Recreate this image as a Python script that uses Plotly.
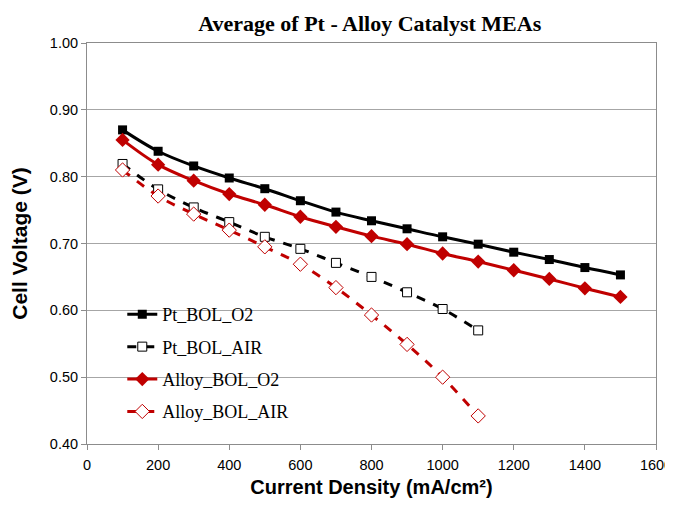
import plotly.graph_objects as go

current = [100, 200, 300, 400, 500, 600, 700, 800, 900, 1000, 1100, 1200, 1300, 1400, 1500]
current_air = [100, 200, 300, 400, 500, 600, 700, 800, 900, 1000, 1100]

pt_bol_o2 = [0.870, 0.838, 0.816, 0.798, 0.782, 0.764, 0.747, 0.734, 0.722, 0.710, 0.699, 0.687, 0.676, 0.664, 0.653]
alloy_bol_o2 = [0.855, 0.818, 0.794, 0.774, 0.758, 0.740, 0.725, 0.711, 0.699, 0.685, 0.673, 0.660, 0.647, 0.633, 0.620]
pt_bol_air = [0.819, 0.781, 0.754, 0.732, 0.710, 0.692, 0.671, 0.650, 0.627, 0.602, 0.570]
alloy_bol_air = [0.810, 0.771, 0.744, 0.720, 0.695, 0.669, 0.634, 0.593, 0.549, 0.500, 0.442]

RED = "#C00000"
fig = go.Figure()
fig.add_trace(go.Scatter(x=current, y=pt_bol_o2, name="Pt_BOL_O2", mode="lines+markers",
                         line=dict(color="black", width=3, shape="spline"),
                         marker=dict(symbol="square", size=9, color="black"), legendgroup="a"))
fig.add_trace(go.Scatter(x=current_air, y=pt_bol_air, name="Pt_BOL_AIR", mode="lines+markers",
                         line=dict(color="black", width=3, dash="dash", shape="spline"),
                         marker=dict(symbol="square", size=9, color="white", line=dict(color="black", width=1)), legendgroup="b"))
fig.add_trace(go.Scatter(x=current, y=alloy_bol_o2, name="Alloy_BOL_O2", mode="lines+markers",
                         line=dict(color=RED, width=3, shape="spline"),
                         marker=dict(symbol="diamond", size=11, color=RED), legendgroup="c"))
fig.add_trace(go.Scatter(x=current_air, y=alloy_bol_air, name="Alloy_BOL_AIR", mode="lines+markers",
                         line=dict(color=RED, width=3, dash="dash", shape="spline"),
                         marker=dict(symbol="diamond", size=11, color="white", line=dict(color=RED, width=1)), legendgroup="d"))

tickfont = dict(family="Liberation Sans, Arial", size=14.5, color="black")
axis_common = dict(showline=True, linecolor="#8c8c8c", linewidth=1, mirror=True, automargin=False,
                   ticks="outside", ticklen=5, tickcolor="#8c8c8c", zeroline=False, tickfont=tickfont)

fig.update_layout(
    width=665, height=490,
    margin=dict(l=79, r=17, t=35, b=54),
    paper_bgcolor="white", plot_bgcolor="white",
    title=dict(text="<b>Average of Pt - Alloy Catalyst MEAs</b>", x=0.544, xanchor="center", y=0.969, yanchor="middle",
               font=dict(family="Liberation Serif, Times New Roman", size=22, color="black")),
    xaxis=dict(range=[0, 1600], dtick=200, tick0=0, showgrid=False, ticklabelstandoff=3,
               title=dict(text="<b>Current Density (mA/cm²)</b>", standoff=13,
                          font=dict(family="Liberation Sans, Arial", size=20, color="black")),
               **axis_common),
    yaxis=dict(range=[0.4, 1.0], dtick=0.1, tick0=0.4, tickformat=".2f", showgrid=True,
               gridcolor="#a6a6a6", gridwidth=1,
               title=dict(text="<b>Cell Voltage (V)</b>", standoff=17,
                          font=dict(family="Liberation Sans, Arial", size=21, color="black")),
               **axis_common),
    legend=dict(x=0.062, y=0.369, xanchor="left", yanchor="top", bgcolor="rgba(0,0,0,0)",
                font=dict(family="Liberation Serif, Times New Roman", size=18, color="black"),
                tracegroupgap=6, itemwidth=30),
    showlegend=True,
)

fig.write_html("out.html")
